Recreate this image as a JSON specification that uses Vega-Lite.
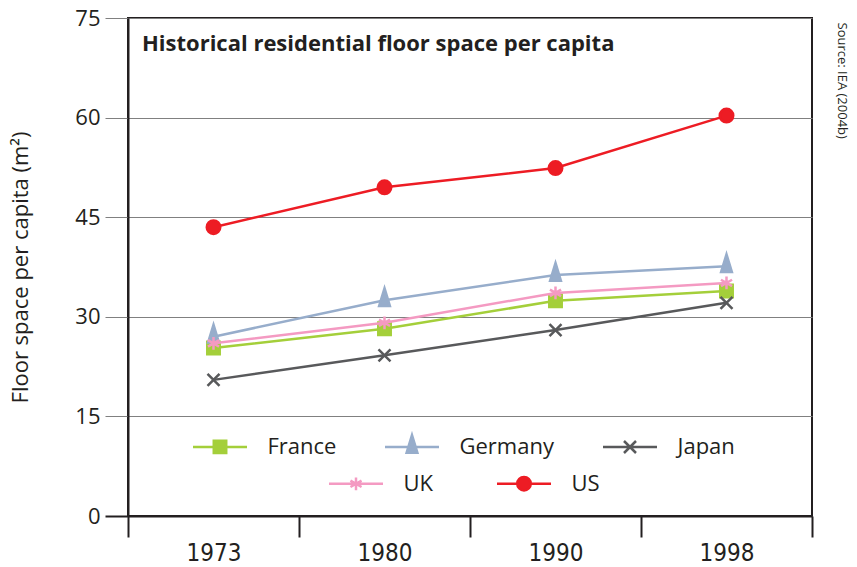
{
  "$schema": "https://vega.github.io/schema/vega-lite/v6.json",
  "width": 684,
  "height": 498,
  "autosize": "none",
  "padding": {"left": 128, "top": 18, "right": 45, "bottom": 51},
  "background": "white",
  "config": {"view": {"stroke": "#231f20", "strokeWidth": 2}, "font": "Open Sans"},
  "title": {"text": "Historical residential floor space per capita", "anchor": "start", "frame": "group", "orient": "top", "offset": -34, "baseline": "alphabetic", "dx": 14, "dy": 32, "font": "Open Sans", "fontSize": 22, "fontWeight": "bold", "color": "#231f20"},
  "data": {"values": [
    {"year": "1973", "country": "France", "value": 25.3},
    {"year": "1980", "country": "France", "value": 28.2},
    {"year": "1990", "country": "France", "value": 32.4},
    {"year": "1998", "country": "France", "value": 33.9},
    {"year": "1973", "country": "Germany", "value": 27.0},
    {"year": "1980", "country": "Germany", "value": 32.5},
    {"year": "1990", "country": "Germany", "value": 36.3},
    {"year": "1998", "country": "Germany", "value": 37.6},
    {"year": "1973", "country": "Japan", "value": 20.5},
    {"year": "1980", "country": "Japan", "value": 24.2},
    {"year": "1990", "country": "Japan", "value": 28.0},
    {"year": "1998", "country": "Japan", "value": 32.1},
    {"year": "1973", "country": "UK", "value": 26.0},
    {"year": "1980", "country": "UK", "value": 29.1},
    {"year": "1990", "country": "UK", "value": 33.6},
    {"year": "1998", "country": "UK", "value": 35.1},
    {"year": "1973", "country": "US", "value": 43.5},
    {"year": "1980", "country": "US", "value": 49.5},
    {"year": "1990", "country": "US", "value": 52.4},
    {"year": "1998", "country": "US", "value": 60.3}
  ]},
  "layer": [
    {
      "transform": [{"filter": {"field": "country", "oneOf": ["France", "Germany", "Japan"]}}],
      "encoding": {
        "x": {"field": "year", "type": "ordinal", "scale": {"type": "band", "paddingInner": 0, "paddingOuter": 0},
          "axis": {"tickBand": "extent", "tickSize": 21, "tickColor": "#231f20", "tickWidth": 2, "domainColor": "#231f20", "domainWidth": 2, "labelFont": "DejaVu Sans Condensed, Open Sans", "labelFontSize": 24, "labelColor": "#231f20", "labelPadding": 4, "labelAngle": 0, "title": null, "grid": false}},
        "y": {"field": "value", "type": "quantitative", "scale": {"domain": [0, 75], "nice": false},
          "axis": {"orient": "left", "values": [0, 15, 30, 45, 60, 75], "grid": true, "gridColor": "#808080", "gridWidth": 1, "tickSize": 23,
            "tickColor": {"condition": {"test": "datum.value === 0", "value": "#231f20"}, "value": "#808080"},
            "tickWidth": {"condition": {"test": "datum.value === 0", "value": 2}, "value": 1},
            "domainColor": "#231f20", "domainWidth": 2, "labelFont": "Open Sans", "labelFontSize": 22, "labelColor": "#231f20", "labelPadding": 5,
            "title": "Floor space per capita (m²)", "titleFont": "Open Sans", "titleFontSize": 22, "titleFontWeight": "normal", "titleColor": "#231f20",
            "titleX": -108, "titleY": 249, "titleAngle": -90, "titleAlign": "center", "titleBaseline": "middle"}},
        "color": {"field": "country", "type": "nominal", "scale": {"domain": ["France", "Germany", "Japan"], "range": ["#a4cf3a", "#97adcb", "#58595b"]},
          "legend": {"orient": "none", "legendX": 63.5, "legendY": 417.5, "direction": "horizontal", "columns": 3, "title": null, "symbolSize": 225, "symbolStrokeWidth": 2.5, "symbolOffset": 17.5, "labelOffset": 36.5, "labelFont": "Open Sans", "labelFontSize": 22, "labelColor": "#231f20", "columnPadding": 43, "padding": 0, "symbolOpacity": 1,
            "symbolType": {"expr": "{'France': 'M-3.6,0H3.6M-0.83,-0.83H0.83V0.83H-0.83Z', 'Germany': 'M-3.6,0H3.6M0,-1.6L0.72,0.77L-0.72,0.77Z', 'Japan': 'M-3.6,0H3.6M-0.8,-0.8L0.8,0.8M-0.8,0.8L0.8,-0.8'}[datum.value]"}}}
      },
      "layer": [
        {"mark": {"type": "line", "strokeWidth": 2.5}},
        {"transform": [{"filter": "datum.country === 'France'"}],
          "mark": {"type": "point", "shape": "M-0.83,-0.83H0.83V0.83H-0.83Z", "filled": false, "strokeWidth": 2.5, "size": 225, "opacity": 1},
          "encoding": {"fill": {"field": "country", "type": "nominal", "scale": {"domain": ["France", "Germany", "Japan"], "range": ["#a4cf3a", "#97adcb", "transparent"]},
            "legend": {"orient": "none", "legendX": 63.5, "legendY": 417.5, "direction": "horizontal", "columns": 3, "title": null, "symbolSize": 225, "symbolStrokeWidth": 2.5, "symbolOffset": 17.5, "labelOffset": 36.5, "labelFont": "Open Sans", "labelFontSize": 22, "labelColor": "#231f20", "columnPadding": 43, "padding": 0, "symbolOpacity": 1,
              "symbolType": {"expr": "{'France': 'M-3.6,0H3.6M-0.83,-0.83H0.83V0.83H-0.83Z', 'Germany': 'M-3.6,0H3.6M0,-1.6L0.72,0.77L-0.72,0.77Z', 'Japan': 'M-3.6,0H3.6M-0.8,-0.8L0.8,0.8M-0.8,0.8L0.8,-0.8'}[datum.value]"}}}}},
        {"transform": [{"filter": "datum.country === 'Germany'"}],
          "mark": {"type": "point", "shape": "M0,-1.6L0.72,0.77L-0.72,0.77Z", "filled": false, "strokeWidth": 2.5, "size": 225, "opacity": 1},
          "encoding": {"fill": {"field": "country", "type": "nominal", "scale": {"domain": ["France", "Germany", "Japan"], "range": ["#a4cf3a", "#97adcb", "transparent"]},
            "legend": {"orient": "none", "legendX": 63.5, "legendY": 417.5, "direction": "horizontal", "columns": 3, "title": null, "symbolSize": 225, "symbolStrokeWidth": 2.5, "symbolOffset": 17.5, "labelOffset": 36.5, "labelFont": "Open Sans", "labelFontSize": 22, "labelColor": "#231f20", "columnPadding": 43, "padding": 0, "symbolOpacity": 1,
              "symbolType": {"expr": "{'France': 'M-3.6,0H3.6M-0.83,-0.83H0.83V0.83H-0.83Z', 'Germany': 'M-3.6,0H3.6M0,-1.6L0.72,0.77L-0.72,0.77Z', 'Japan': 'M-3.6,0H3.6M-0.8,-0.8L0.8,0.8M-0.8,0.8L0.8,-0.8'}[datum.value]"}}}}},
        {"transform": [{"filter": "datum.country === 'Japan'"}],
          "mark": {"type": "point", "shape": "M-0.8,-0.8L0.8,0.8M-0.8,0.8L0.8,-0.8", "filled": false, "strokeWidth": 2.5, "size": 225, "opacity": 1},
          "encoding": {"fill": {"field": "country", "type": "nominal", "scale": {"domain": ["France", "Germany", "Japan"], "range": ["#a4cf3a", "#97adcb", "transparent"]},
            "legend": {"orient": "none", "legendX": 63.5, "legendY": 417.5, "direction": "horizontal", "columns": 3, "title": null, "symbolSize": 225, "symbolStrokeWidth": 2.5, "symbolOffset": 17.5, "labelOffset": 36.5, "labelFont": "Open Sans", "labelFontSize": 22, "labelColor": "#231f20", "columnPadding": 43, "padding": 0, "symbolOpacity": 1,
              "symbolType": {"expr": "{'France': 'M-3.6,0H3.6M-0.83,-0.83H0.83V0.83H-0.83Z', 'Germany': 'M-3.6,0H3.6M0,-1.6L0.72,0.77L-0.72,0.77Z', 'Japan': 'M-3.6,0H3.6M-0.8,-0.8L0.8,0.8M-0.8,0.8L0.8,-0.8'}[datum.value]"}}}}}
      ]
    },
    {
      "transform": [{"filter": {"field": "country", "oneOf": ["UK", "US"]}}],
      "encoding": {
        "x": {"field": "year", "type": "ordinal", "scale": {"type": "band", "paddingInner": 0, "paddingOuter": 0},
          "axis": {"tickBand": "extent", "tickSize": 21, "tickColor": "#231f20", "tickWidth": 2, "domainColor": "#231f20", "domainWidth": 2, "labelFont": "DejaVu Sans Condensed, Open Sans", "labelFontSize": 24, "labelColor": "#231f20", "labelPadding": 4, "labelAngle": 0, "title": null, "grid": false}},
        "y": {"field": "value", "type": "quantitative", "scale": {"domain": [0, 75], "nice": false},
          "axis": {"orient": "right", "labels": false, "ticks": false, "domain": false, "grid": false,
            "title": "Source: IEA (2004b)", "titleFont": "Open Sans", "titleFontSize": 13, "titleFontWeight": "normal", "titleColor": "#231f20",
            "titleX": 29, "titleY": 4, "titleAngle": 90, "titleAlign": "left", "titleBaseline": "middle"}},
        "color": {"field": "country", "type": "nominal", "scale": {"domain": ["UK", "US"], "range": ["#f49ac2", "#ed1c24"]},
          "legend": {"orient": "none", "legendX": 199.5, "legendY": 454.5, "direction": "horizontal", "columns": 2, "title": null, "symbolSize": 225, "symbolStrokeWidth": 2.5, "symbolOffset": 17.5, "labelOffset": 36.5, "labelFont": "Open Sans", "labelFontSize": 22, "labelColor": "#231f20", "columnPadding": 58, "padding": 0, "symbolOpacity": 1,
            "symbolType": {"expr": "{'UK': 'M-3.6,0H3.6M0,-0.85L0,0.85M-0.74,-0.43L0.74,0.43M-0.74,0.43L0.74,-0.43', 'US': 'M-3.6,0H3.6M0.9,0A0.9,0.9,0,1,1,-0.9,0A0.9,0.9,0,1,1,0.9,0Z'}[datum.value]"}}}
      },
      "layer": [
        {"mark": {"type": "line", "strokeWidth": 2.5}},
        {"transform": [{"filter": "datum.country === 'UK'"}],
          "mark": {"type": "point", "shape": "M0,-0.85L0,0.85M-0.74,-0.43L0.74,0.43M-0.74,0.43L0.74,-0.43", "filled": false, "strokeWidth": 2.5, "size": 225, "opacity": 1},
          "encoding": {"fill": {"field": "country", "type": "nominal", "scale": {"domain": ["UK", "US"], "range": ["transparent", "#ed1c24"]},
            "legend": {"orient": "none", "legendX": 199.5, "legendY": 454.5, "direction": "horizontal", "columns": 2, "title": null, "symbolSize": 225, "symbolStrokeWidth": 2.5, "symbolOffset": 17.5, "labelOffset": 36.5, "labelFont": "Open Sans", "labelFontSize": 22, "labelColor": "#231f20", "columnPadding": 58, "padding": 0, "symbolOpacity": 1,
              "symbolType": {"expr": "{'UK': 'M-3.6,0H3.6M0,-0.85L0,0.85M-0.74,-0.43L0.74,0.43M-0.74,0.43L0.74,-0.43', 'US': 'M-3.6,0H3.6M0.9,0A0.9,0.9,0,1,1,-0.9,0A0.9,0.9,0,1,1,0.9,0Z'}[datum.value]"}}}}},
        {"transform": [{"filter": "datum.country === 'US'"}],
          "mark": {"type": "point", "shape": "M0.9,0A0.9,0.9,0,1,1,-0.9,0A0.9,0.9,0,1,1,0.9,0Z", "filled": false, "strokeWidth": 2.5, "size": 225, "opacity": 1},
          "encoding": {"fill": {"field": "country", "type": "nominal", "scale": {"domain": ["UK", "US"], "range": ["transparent", "#ed1c24"]},
            "legend": {"orient": "none", "legendX": 199.5, "legendY": 454.5, "direction": "horizontal", "columns": 2, "title": null, "symbolSize": 225, "symbolStrokeWidth": 2.5, "symbolOffset": 17.5, "labelOffset": 36.5, "labelFont": "Open Sans", "labelFontSize": 22, "labelColor": "#231f20", "columnPadding": 58, "padding": 0, "symbolOpacity": 1,
              "symbolType": {"expr": "{'UK': 'M-3.6,0H3.6M0,-0.85L0,0.85M-0.74,-0.43L0.74,0.43M-0.74,0.43L0.74,-0.43', 'US': 'M-3.6,0H3.6M0.9,0A0.9,0.9,0,1,1,-0.9,0A0.9,0.9,0,1,1,0.9,0Z'}[datum.value]"}}}}}
      ]
    }
  ],
  "resolve": {"scale": {"color": "independent", "fill": "independent"}, "axis": {"y": "independent"}}
}
